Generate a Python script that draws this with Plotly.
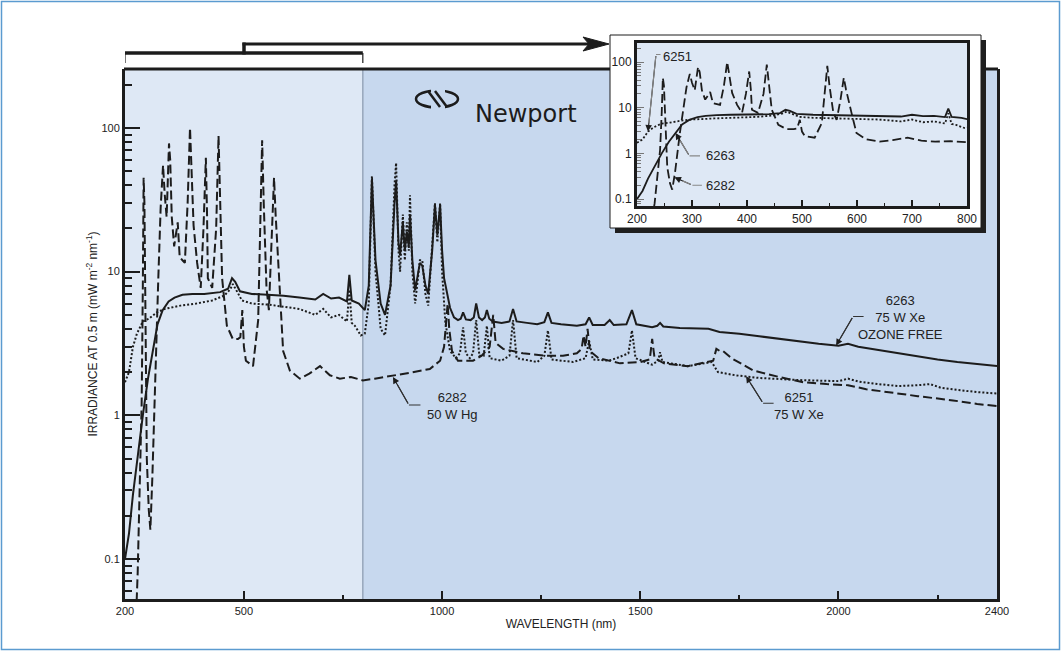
import math
import plotly.graph_objects as go

# ---------------- data ----------------
wl_6263 = [200, 210, 220, 233, 245, 258, 270, 282, 295, 310, 325, 345, 370, 400, 440, 460, 470, 478,
           490, 520, 560, 600, 640, 680, 700, 720, 740, 760, 766, 772, 790, 805, 815, 823, 832, 845,
           856, 870, 880, 884, 890, 894, 901, 906, 911, 916, 919, 925, 932, 940, 944, 950, 958, 965,
           975, 982, 988, 995, 1000, 1005, 1012, 1020, 1030, 1040, 1047, 1053, 1060, 1072, 1080, 1086,
           1093, 1101, 1108, 1113, 1119, 1128, 1150, 1170, 1179, 1188, 1214, 1240, 1258, 1267, 1276,
           1300, 1340, 1362, 1371, 1380, 1410, 1423, 1433, 1465, 1479, 1490, 1530, 1543, 1550, 1558,
           1600, 1650, 1672, 1700, 1750, 1800, 1850, 1900, 1950, 2000, 2024, 2050, 2100, 2150, 2200,
           2250, 2300, 2350, 2400]
irr_6263 = [0.1, 0.15, 0.28, 0.55, 1.0, 1.8, 2.8, 4.3, 5.4, 6.2, 6.6, 6.9, 7.0, 7.0, 7.2, 7.6, 9.0, 8.5,
            7.3, 7.0, 6.9, 6.8, 6.6, 6.4, 7.0, 6.5, 6.6, 6.2, 9.5, 6.3, 6.0, 5.4, 8.0, 44, 12, 6.0,
            5.0, 8.0, 30, 43, 16, 13, 22, 14, 19, 15, 25, 12, 7.4, 10, 11.5, 11, 8.0, 7.0,
            14, 29, 18, 29, 14, 9.0, 7.0, 5.6, 4.8, 4.6, 4.7, 5.2, 4.65, 4.6, 4.8, 6.0,
            4.8, 4.6, 4.8, 5.4, 4.7, 4.5, 4.4, 4.5, 5.5, 4.5, 4.4, 4.3, 4.45, 5.2, 4.4,
            4.3, 4.2, 4.3, 4.8, 4.25, 4.25, 4.6, 4.25, 4.3, 5.4, 4.3, 4.1, 4.2, 4.4, 4.15,
            4.05, 4.0, 4.0, 3.8, 3.7, 3.55, 3.4, 3.25, 3.15, 3.05, 3.15, 3.0, 2.85, 2.7, 2.55,
            2.45, 2.35, 2.28, 2.2]

wl_6251 = [200, 210, 220, 230, 245, 260, 280, 300, 340, 380, 420, 450, 465, 472, 480, 495, 520, 560,
           600, 640, 680, 700, 720, 740, 760, 766, 772, 780, 795, 805, 815, 823, 832, 845, 856, 870,
           880, 884, 890, 894, 901, 906, 911, 916, 919, 925, 932, 940, 944, 950, 958, 965, 975, 982,
           988, 995, 1000, 1008, 1020, 1035, 1045, 1053, 1060, 1070, 1078, 1086, 1094, 1105, 1113,
           1120, 1150, 1170, 1179, 1188, 1240, 1258, 1267, 1276, 1330, 1362, 1371, 1380, 1420, 1440,
           1470, 1479, 1488, 1530, 1545, 1550, 1556, 1620, 1680, 1696, 1740, 1800, 1900, 1950, 2000,
           2024, 2050, 2100, 2150, 2200, 2231, 2260, 2300, 2350, 2400]
irr_6251 = [1.7, 2.0, 3.0, 3.7, 4.5, 4.7, 5.2, 5.5, 5.8, 6.0, 6.3, 6.8, 7.5, 8.2, 7.5, 6.3, 6.0, 5.9,
            5.7, 5.5, 5.0, 5.5, 4.8, 5.0, 4.5, 7.5, 4.4, 4.2, 3.6, 3.7, 6.0, 46, 10, 4.0, 3.6, 8.0,
            40, 57, 14, 10, 25, 12, 22, 14, 34, 10, 6.0, 10, 12, 12, 7.0, 5.8, 15, 30,
            16, 30, 10, 4.5, 2.8, 2.5, 2.7, 4.1, 2.7, 2.5, 2.7, 4.6, 2.6, 2.6, 4.2,
            2.5, 2.4, 2.6, 4.6, 2.5, 2.35, 2.6, 3.9, 2.45, 2.35, 2.5, 3.3, 2.45, 2.4, 2.5,
            2.7, 3.9, 2.5, 2.25, 2.4, 2.75, 2.35, 2.2, 2.35, 2.0, 1.9, 1.82, 1.76, 1.74, 1.73,
            1.8, 1.72, 1.65, 1.6, 1.62, 1.65, 1.55, 1.5, 1.45, 1.42]

wl_6282 = [200, 228, 232, 238, 242, 245, 247, 249, 251, 255, 260, 264, 269, 274, 278, 284, 290, 296,
           300, 305, 311, 314, 318, 324, 333, 338, 345, 351, 358, 364, 368, 373, 382, 391, 398, 404,
           407, 409, 420, 430, 436, 440, 445, 457, 472, 485, 491, 496, 500, 505, 523, 536, 542, 546,
           550, 557, 563, 570, 576, 580, 590, 599, 616, 641, 665, 692, 717, 742, 770, 800, 830, 876,
           920, 969, 995, 1005, 1010, 1014, 1018, 1025, 1040, 1053, 1078, 1100, 1120, 1129, 1135, 1154,
           1204, 1260, 1305, 1340, 1352, 1357, 1362, 1367, 1373, 1395, 1420, 1449, 1500, 1524, 1530,
           1536, 1560, 1620, 1684, 1692, 1701, 1709, 1730, 1785, 1850, 1911, 1970, 2024, 2070, 2122,
           2200, 2289, 2350, 2400]
irr_6282 = [0.04, 0.04, 0.08, 0.5, 1.2, 8.0, 45, 30, 6.0, 0.5, 0.22, 0.16, 0.37, 1.2, 2.8, 8.9, 28, 55,
            35, 24, 78, 60, 24, 15, 22, 12.6, 12, 11.5, 30, 100, 50, 21, 11.5, 7.7, 20, 62,
            25, 9.0, 7.7, 20, 88, 30, 9.0, 4.2, 3.4, 3.4, 3.5, 5.4, 3.0, 2.4, 2.2, 4.6, 30, 82,
            30, 7.7, 5.4, 15, 45, 25, 7.7, 2.8, 2.05, 1.8, 1.95, 2.2, 1.9, 1.8, 1.85, 1.75, 1.8, 1.88,
            1.98, 2.1, 2.4, 3.0, 4.5, 6.0, 4.0, 2.8, 2.4, 2.4, 2.4, 2.6, 3.0, 5.0, 3.2, 2.9,
            2.7, 2.6, 2.6, 2.7, 2.9, 3.6, 3.0, 4.0, 2.8, 2.5, 2.4, 2.3, 2.35, 2.45, 3.4,
            2.5, 2.3, 2.2, 2.4, 2.9, 2.8, 2.8, 2.5, 2.05, 1.85, 1.7, 1.65, 1.62, 1.52, 1.45,
            1.36, 1.27, 1.2, 1.16]

main_xticks = [200, 500, 1000, 1500, 2000, 2400]
main_xminor = [750, 1250, 1750, 2250]
inset_xticks = [200, 300, 400, 500, 600, 700, 800]
inset_xminor = [250, 350, 450, 550, 650, 750]
y_ticks = [0.1, 1, 10, 100]
y_ticktext = ["0.1", "1", "10", "100"]
y_minor = [0.06, 0.07, 0.08, 0.09] + [k * 10.0 ** e for e in (-1, 0, 1) for k in range(2, 10)] + [200]

# ---------------- geometry helpers ----------------
W, H = 1061, 651
ML, MR, MT, MB = 125, 64, 30, 52
PW, PH = W - ML - MR, H - MT - MB


def px(x):
    return (x - ML) / PW


def py(y):
    return (H - MB - y) / PH


INK = "#1c1c1c"
TXT = "#222222"
DARK_BG = "#c7d8ee"
LIGHT_BG = "#dee8f5"
FONT = "Liberation Sans, Arial, sans-serif"

fig = go.Figure()

styles = [
    (wl_6263, irr_6263, "solid"),
    (wl_6251, irr_6251, "2px,2px"),
    (wl_6282, irr_6282, "9px,4px"),
]
for wl, irr, dash in styles:
    fig.add_trace(go.Scatter(x=wl, y=irr, mode="lines", xaxis="x", yaxis="y",
                             line=dict(color=INK, width=2, dash=dash),
                             showlegend=False, hoverinfo="skip"))
for wl, irr, dash in styles:
    fig.add_trace(go.Scatter(x=wl, y=irr, mode="lines", xaxis="x2", yaxis="y2",
                             line=dict(color=INK, width=1.8, dash=dash),
                             showlegend=False, hoverinfo="skip"))

shapes = []
# main background
shapes.append(dict(type="rect", xref="paper", yref="paper", x0=0, x1=1, y0=0, y1=py(69),
                   fillcolor=DARK_BG, line=dict(width=0), layer="below"))
shapes.append(dict(type="rect", xref="x", yref="paper", x0=200, x1=800, y0=0, y1=py(69),
                   fillcolor=LIGHT_BG, line=dict(width=0), layer="below"))
shapes.append(dict(type="line", xref="x", yref="paper", x0=800, x1=800, y0=0, y1=py(69),
                   line=dict(color="#97a6ba", width=1.5), layer="below"))
# main top border
shapes.append(dict(type="line", xref="paper", yref="paper", x0=px(124), x1=px(998), y0=py(69), y1=py(69),
                   line=dict(color=INK, width=3), layer="below"))
# bracket + arrow
shapes.append(dict(type="line", xref="x", yref="paper", x0=200, x1=800, y0=py(53), y1=py(53),
                   line=dict(color=INK, width=3.5), layer="below"))
for xv in (200, 800):
    shapes.append(dict(type="line", xref="x", yref="paper", x0=xv, x1=xv, y0=py(53), y1=py(63),
                       line=dict(color=INK, width=1.2), layer="below"))
shapes.append(dict(type="line", xref="paper", yref="paper", x0=px(244), x1=px(244), y0=py(54.5), y1=py(42.5),
                   line=dict(color=INK, width=3.5), layer="below"))
shapes.append(dict(type="line", xref="paper", yref="paper", x0=px(242.5), x1=px(590), y0=py(44), y1=py(44),
                   line=dict(color=INK, width=3), layer="below"))
shapes.append(dict(type="path", xref="paper", yref="paper",
                   path="M {} {} L {} {} L {} {} L {} {} Z".format(px(583), py(37), px(609), py(44), px(583), py(51),
                                                                   px(589), py(44)),
                   fillcolor=INK, line=dict(color=INK, width=1), layer="below"))
# Newport logo mark
cx, cy, rx, ry = 437, 99, 21, 8.5
shapes.append(dict(type="circle", xref="paper", yref="paper", x0=px(cx - rx), x1=px(cx + rx),
                   y0=py(cy + ry), y1=py(cy - ry), line=dict(color=INK, width=2.5), layer="below"))
shapes.append(dict(type="rect", xref="paper", yref="paper", x0=px(431), x1=px(445),
                   y0=py(cy + ry + 3), y1=py(cy - ry - 3), fillcolor=DARK_BG, line=dict(width=0), layer="below"))
for ox in (0, 7):
    shapes.append(dict(type="line", xref="paper", yref="paper", x0=px(428 + ox), x1=px(440 + ox),
                       y0=py(91), y1=py(107), line=dict(color=INK, width=2.5), layer="below"))
# inset box: shadow, white panel, plot background
shapes.append(dict(type="rect", xref="paper", yref="paper", x0=px(615), x1=px(986), y0=py(233), y1=py(40),
                   fillcolor="#1f1f1f", line=dict(width=0), layer="below"))
shapes.append(dict(type="rect", xref="paper", yref="paper", x0=px(610), x1=px(981), y0=py(228), y1=py(35),
                   fillcolor="white", line=dict(color=INK, width=1), layer="below"))
shapes.append(dict(type="rect", xref="x2 domain", yref="y2 domain", x0=0, x1=1, y0=0, y1=1,
                   fillcolor=LIGHT_BG, line=dict(width=0), layer="below"))
# outer frame of the picture
shapes.append(dict(type="rect", xref="paper", yref="paper", x0=px(1.5), x1=px(1059.5), y0=py(649.5), y1=py(1.5),
                   line=dict(color="#5b9bd0", width=1.5), layer="below"))

anns = []


def leader(xr, yr, x, y, edx, edy, tdx, color, text, tx, ty, size):
    ly = math.log10(y)
    # arrow head (dark) from elbow to target
    anns.append(dict(xref=xr, yref=yr, x=x, y=ly, ax=edx, ay=edy, axref="pixel", ayref="pixel",
                     text="", showarrow=True, arrowhead=2,
                     arrowsize=1.2, arrowwidth=1.1, arrowcolor=INK, standoff=0, startstandoff=0))
    # leader line in its own colour
    anns.append(dict(xref=xr, yref=yr, x=x, y=ly, ax=edx, ay=edy, axref="pixel", ayref="pixel",
                     text="", showarrow=True, arrowhead=0,
                     arrowwidth=1.1, arrowcolor=color, standoff=9, startstandoff=0))
    # short horizontal part of the elbow
    anns.append(dict(xref=xr, yref=yr, x=x, y=ly, xshift=edx, yshift=-edy, ax=tdx, ay=0,
                     axref="pixel", ayref="pixel", text="",
                     showarrow=True, arrowhead=0, arrowwidth=1.1, arrowcolor=color,
                     standoff=0, startstandoff=0))
    anns.append(dict(xref=xr, yref=yr, x=x, y=ly, xshift=tx, yshift=-ty, text=text, showarrow=False,
                     font=dict(family=FONT, size=size, color=TXT), align="center"))


leader("x", "y", 1994, 3.06, 17, -29, 12, "#333", "6263<br>75 W Xe<br>OZONE FREE", 64, -28, 13)
leader("x", "y", 1767, 1.87, 17, 27, 12, "#333", "6251<br>75 W Xe", 53, 30, 13)
leader("x", "y", 876, 1.85, 16, 28, 13, "#333", "6282<br>50 W Hg", 60, 29, 13)
leader("x2", "y2", 220, 3.0, 8, -77, 6, "#888", "6251", 29, -75, 13)
leader("x2", "y2", 270, 2.8, 14, 23, 12, "#888", "6263", 45, 23, 13)
leader("x2", "y2", 268, 0.3, 18, 8, 11, "#888", "6282", 46, 8, 13)

anns.append(dict(xref="paper", yref="paper", x=px(526), y=py(98), text="Newport", showarrow=False,
                 font=dict(family="DejaVu Sans, sans-serif", size=24, color=INK)))

fig.update_layout(
    width=W, height=H,
    margin=dict(l=ML, r=MR, t=MT, b=MB, pad=0),
    paper_bgcolor="white",
    plot_bgcolor="rgba(0,0,0,0)",
    font=dict(family=FONT, color=TXT, size=11),
    shapes=shapes,
    annotations=anns,
    xaxis=dict(domain=[0, 1], anchor="y", range=[200, 2400], showline=True, linewidth=3, linecolor=INK,
               mirror=False, ticks="inside", ticklen=8, tickwidth=1.5, tickcolor=INK,
               tickmode="array", tickvals=main_xticks, ticktext=[str(v) for v in main_xticks],
               minor=dict(tickmode="array", tickvals=main_xminor, ticks="inside", ticklen=4,
                          tickwidth=1.5, tickcolor=INK),
               showgrid=False, zeroline=False, tickfont=dict(size=11, color=TXT, family=FONT),
               title=dict(text="WAVELENGTH (nm)", font=dict(size=12, color=TXT, family=FONT), standoff=4)),
    yaxis=dict(domain=[0, py(69)], anchor="x", type="log", range=[-1.278, 2.41], showline=True,
               linewidth=3, linecolor=INK, mirror=True, ticks="inside", ticklen=15, tickwidth=1.5,
               tickcolor=INK, tickmode="array", tickvals=y_ticks, ticktext=y_ticktext,
               minor=dict(tickmode="array", tickvals=y_minor, ticks="inside", ticklen=7,
                          tickwidth=1.5, tickcolor=INK),
               showgrid=False, zeroline=False, tickfont=dict(size=11, color=TXT, family=FONT),
               title=dict(text="IRRADIANCE AT 0.5 m (mW m<sup>-2</sup> nm<sup>-1</sup>)",
                          font=dict(size=12, color=TXT, family=FONT), standoff=2)),
    xaxis2=dict(domain=[px(637), px(967)], anchor="y2", range=[200, 800], showline=True, linewidth=3,
                linecolor=INK, mirror=True, ticks="inside", ticklen=6, tickwidth=1.5, tickcolor=INK,
                tickmode="array", tickvals=inset_xticks, ticktext=[str(v) for v in inset_xticks],
                minor=dict(tickmode="array", tickvals=inset_xminor, ticks="inside", ticklen=3,
                           tickwidth=1.2, tickcolor=INK),
                showgrid=False, zeroline=False, tickfont=dict(size=12, color=TXT, family=FONT)),
    yaxis2=dict(domain=[py(206), py(43)], anchor="x2", type="log", range=[-1.153, 2.416], showline=True,
                linewidth=3, linecolor=INK, mirror=True, ticks="inside", ticklen=7, tickwidth=1.2,
                tickcolor="#777", tickmode="array", tickvals=y_ticks, ticktext=y_ticktext,
                minor=dict(tickmode="array", tickvals=y_minor, ticks="inside", ticklen=4,
                           tickwidth=1, tickcolor="#777"),
                showgrid=False, zeroline=False, tickfont=dict(size=12, color=TXT, family=FONT)),
)

fig.write_html("out.html")
